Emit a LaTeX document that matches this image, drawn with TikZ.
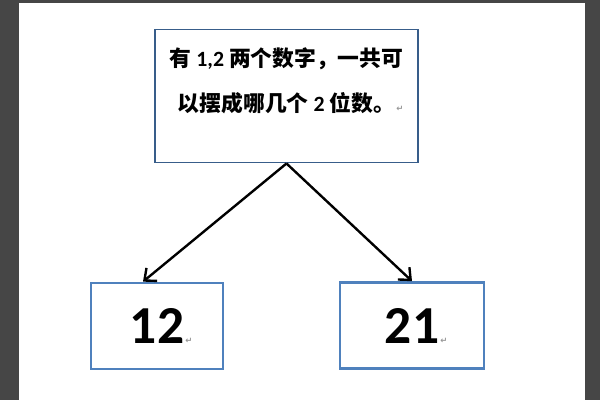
\documentclass[tikz,border=0pt]{standalone}
\usepackage{fontspec}
\setmainfont{Carlito}
\newfontfamily\zhfont{Noto Sans CJK SC}
\newfontfamily\markfont{DejaVu Sans}
\usepackage{tikz}
\usetikzlibrary{arrows.meta,positioning}
\definecolor{pagegray}{RGB}{70,70,70}
\definecolor{boxblue}{RGB}{79,129,189}
\definecolor{darkblue}{RGB}{56,93,138}
\definecolor{markgray}{RGB}{150,150,150}
\newcommand{\zh}[1]{{\zhfont #1}}
\newcommand{\retmark}{\rlap{\markfont\fontsize{6}{6}\selectfont\,\textcolor{markgray}{↵}}}
\tikzset{
  questionbox/.style={draw=darkblue, line width=1pt, fill=white, inner sep=0pt},
  answerbox/.style={draw=boxblue, line width=1.9pt, fill=white,
    minimum height=21.5mm, font=\bfseries\fontsize{38}{38}\selectfont},
  link/.style={-{Straight Barb[length=2.4mm,width=4.2mm]}, line width=1.7pt}
}

\begin{document}
\begin{tikzpicture}[x=0.25mm, y=-0.25mm]
% page
\fill[pagegray] (0,0) rectangle (600,400);
\fill[white] (19,3) rectangle (585,400);

\node[questionbox] (question) at (286.5,96) {\parbox[c][95pt][t]{187pt}{\centering
  \fontsize{15.5}{32}\selectfont\bfseries\vspace*{13pt}
  \zh{有} 1,2 \zh{两个数字，一共可}\\
  \zh{以摆成哪几个} 2 \zh{位数。}\retmark}};
\node[answerbox, minimum width=33mm] (num12) at (157,326) {12\retmark};
\node[answerbox, minimum width=36mm] (num21) at (412,325.5) {21\retmark};

\draw[link] (question.south) -- ([xshift=-3.5mm]num12.north);
\draw[link] (question.south) -- (num21.north);
\end{tikzpicture}
\end{document}
